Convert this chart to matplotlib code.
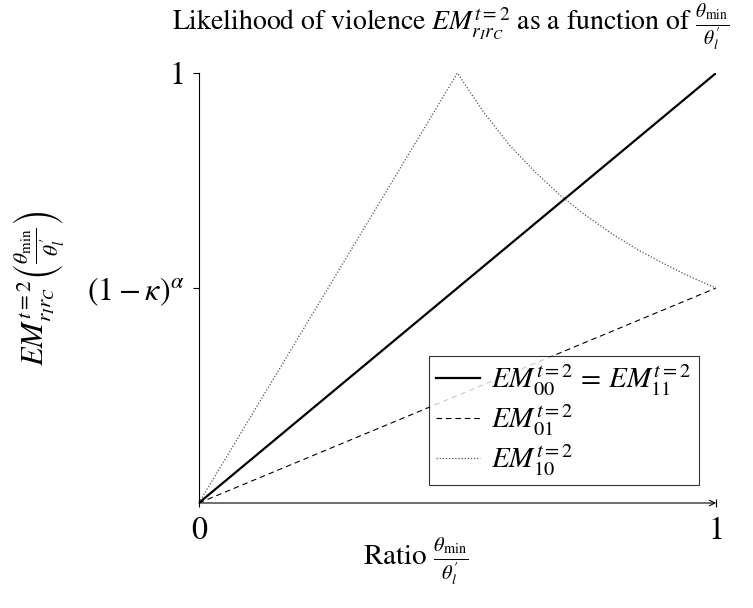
import numpy as np
import matplotlib
matplotlib.use("Agg")
import matplotlib.pyplot as plt

plt.rcParams['mathtext.fontset'] = 'stix'
plt.rcParams['font.family'] = ['STIXGeneral', 'DejaVu Serif']

# Data (x = ratio theta_min / theta'_l)
x_solid = [0.0, 1.0]
y_solid = [0.0, 1.0]          # EM_00 = EM_11

x_dashed = [0.0, 1.0]
y_dashed = [0.0, 0.5]         # EM_01

x_dotted = [0.0, 0.5, 0.55, 0.6, 0.65, 0.7, 0.75, 0.8, 0.85, 0.9, 0.95, 1.0]
y_dotted = [0.0, 1.0, 0.91, 0.833, 0.77, 0.714, 0.667, 0.625, 0.588, 0.556, 0.526, 0.5]  # EM_10

kappa_level = 0.5             # (1 - kappa)^alpha

fig = plt.figure(figsize=(7.53, 6.08), dpi=100)
ax = fig.add_axes([0.264, 0.1727, 0.687, 0.7072])

ax.plot(x_solid, y_solid, color='black', lw=1.6, label=r'$EM^{t=2}_{00}\,=\,EM^{t=2}_{11}$')
ax.plot(x_dashed, y_dashed, color='black', lw=0.8, dashes=(5, 3.5), label=r'$EM^{t=2}_{01}$')
ax.plot(x_dotted, y_dotted, color='#555555', lw=0.9, ls=(0, (1, 1.5)), label=r'$EM^{t=2}_{10}$')

ax.set_xlim(0, 1)
ax.set_ylim(0, 1)
ax.spines['top'].set_visible(False)
ax.spines['right'].set_visible(False)
ax.spines['bottom'].set_visible(False)
ax.spines['left'].set_linewidth(0.8)

# x axis with arrow head
ax.annotate('', xy=(1.0, 0), xytext=(0, 0), xycoords='axes fraction',
            arrowprops=dict(arrowstyle='->', color='black', lw=0.8,
                            shrinkA=0, shrinkB=0, mutation_scale=10))

ax.set_xticks([0, 1])
ax.set_xticklabels(['0', '1'], fontsize=23)
ax.set_yticks([kappa_level, 1])
ax.set_yticklabels([r'$(1-\kappa)^{\alpha}$', '1'], fontsize=23)
ax.tick_params(axis='x', direction='inout', length=6, width=0.8, pad=7)
ax.tick_params(axis='y', direction='out', length=4, width=0.8, pad=6)

ax.set_xlabel(r'Ratio $\frac{\theta_{\min}}{\theta^{\prime}_l}$', fontsize=21)
ax.xaxis.set_label_coords(0.42, -0.075)
ax.set_ylabel(r'$EM^{t=2}_{r_I r_C}\left(\frac{\theta_{\min}}{\theta^{\prime}_l}\right)$', fontsize=22)
ax.yaxis.set_label_coords(-0.255, 0.5)

fig.text(0.598, 0.957, r'Likelihood of violence $EM^{t=2}_{r_I r_C}$ as a function of $\frac{\theta_{\min}}{\theta^{\prime}_l}$',
         ha='center', va='center', fontsize=20)

leg = ax.legend(loc='lower right', fontsize=21, frameon=True, fancybox=False,
                edgecolor='black', handlelength=1.5, handletextpad=0.4,
                labelspacing=0.15, borderpad=0.25, borderaxespad=0.6)
leg.get_frame().set_linewidth(0.8)

fig.savefig('out.png', dpi=100)
